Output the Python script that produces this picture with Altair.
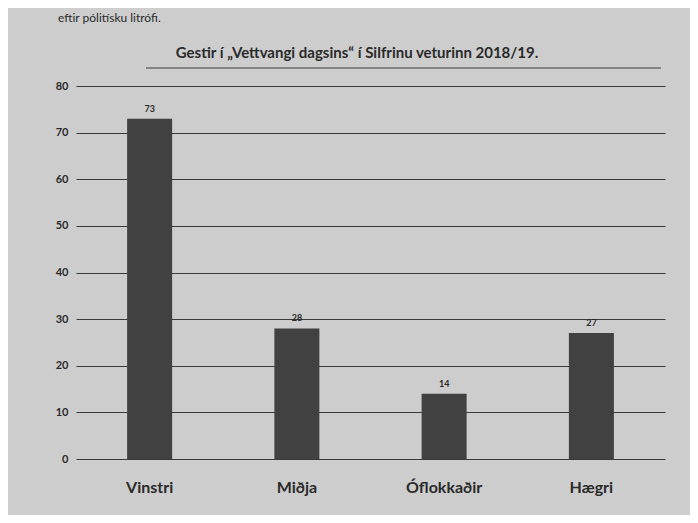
import altair as alt
import pandas as pd

categories = ["Vinstri", "Miðja", "Óflokkaðir", "Hægri"]
values = [73, 28, 14, 27]
y_ticks = [0, 10, 20, 30, 40, 50, 60, 70, 80]
title_text = "Gestir í „Vettvangi dagsins“ í Silfrinu veturinn 2018/19."
page_text = "eftir pólitísku litrófi."

df = pd.DataFrame({"flokkur": categories, "fjoldi": values})

FONT = "Lato"
INK = "#2a2a2a"

base = alt.Chart(df).encode(
    x=alt.X("flokkur:N", sort=categories, title=None,
            scale=alt.Scale(paddingInner=0.0, paddingOuter=0.0),
            axis=alt.Axis(labelAngle=0, labelFontSize=16, labelFont=FONT,
                          labelFontWeight="bold", labelColor=INK,
                          ticks=False, domain=False, labelPadding=20)),
    y=alt.Y("fjoldi:Q", title=None,
            scale=alt.Scale(domain=[0, 80], nice=False),
            axis=alt.Axis(values=y_ticks, labelFontSize=11, labelFont=FONT,
                          labelFontWeight="bold", labelColor=INK,
                          ticks=False, domain=False, labelPadding=8,
                          gridColor="#3a3a3a", gridWidth=1.2)),
)

bars = base.mark_bar(color="#414141", size=45)
labels = base.mark_text(dy=-10, fontSize=9, font=FONT, fontWeight="bold",
                        color=INK).encode(text="fjoldi:Q")

page = alt.Chart(pd.DataFrame({"t": [page_text]})).mark_text(
    align="left", baseline="middle", fontSize=12, font=FONT, color=INK
).encode(x=alt.value(-18), y=alt.value(-68), text="t:N")

title = alt.Chart(pd.DataFrame({"t": [title_text]})).mark_text(
    align="center", baseline="middle", fontSize=15, font=FONT,
    fontWeight="bold", color=INK
).encode(x=alt.value(281), y=alt.value(-33), text="t:N")

underline = alt.Chart(pd.DataFrame({"t": [0]})).mark_rule(
    color="#3a3a3a", strokeWidth=1.2
).encode(x=alt.value(70), x2=alt.value(585), y=alt.value(-18))

chart = alt.layer(bars, labels, page, title, underline).properties(
    width=682, height=507,
    autosize=alt.AutoSizeParams(type="fit", contains="padding"),
    background="#cdcdcd",
    padding={"left": 47, "right": 25, "top": 4, "bottom": 20},
).configure_view(stroke=None)

chart.save("out.html", embed_options={"renderer": "svg", "actions": False})
